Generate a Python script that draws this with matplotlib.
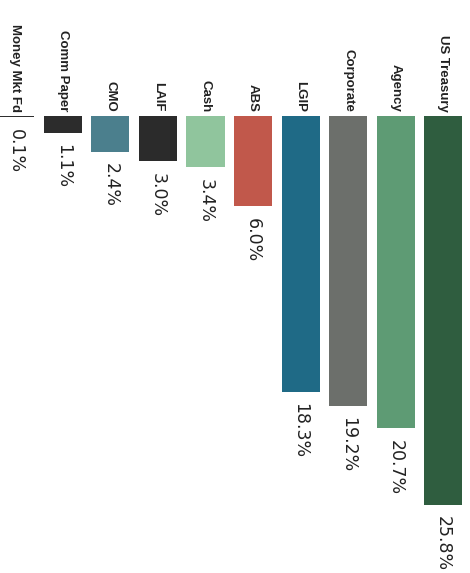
import matplotlib
matplotlib.use("Agg")
import matplotlib.pyplot as plt

# Portfolio allocation by sector (percent of total)
categories = ["Money Mkt Fd", "Comm Paper", "CMO", "LAIF", "Cash", "ABS",
              "LGIP", "Corporate", "Agency", "US Treasury"]
values = [0.1, 1.1, 2.4, 3.0, 3.4, 6.0, 18.3, 19.2, 20.7, 25.8]
colors = ["#2e2e2e", "#2c2c2c", "#4b7f8d", "#2b2b2b", "#90c59d", "#c1584b",
          "#1f6a86", "#6c6f6b", "#5e9b74", "#2f5d3f"]

fig = plt.figure(figsize=(4.70, 5.73), dpi=100)
ax = fig.add_axes([0, 0, 1, 1])

x = list(range(len(categories)))
ax.bar(x, values, width=0.8, color=colors, align="center")

ax.set_xlim(-0.326, 9.568)
ax.set_ylim(30.3, -7.69)
ax.axis("off")

for xi, cat, val in zip(x, categories, values):
    ax.text(xi, -0.28, cat, rotation=-90, ha="center", va="bottom",
            fontsize=9.5, fontweight="bold", family="Liberation Sans",
            color="#222222")
    ax.text(xi, val + 0.75, f"{val:.1f}%", rotation=-90, ha="center",
            va="top", fontsize=12.5, family="DejaVu Sans", color="#222222")

fig.savefig("out.png", dpi=100)
